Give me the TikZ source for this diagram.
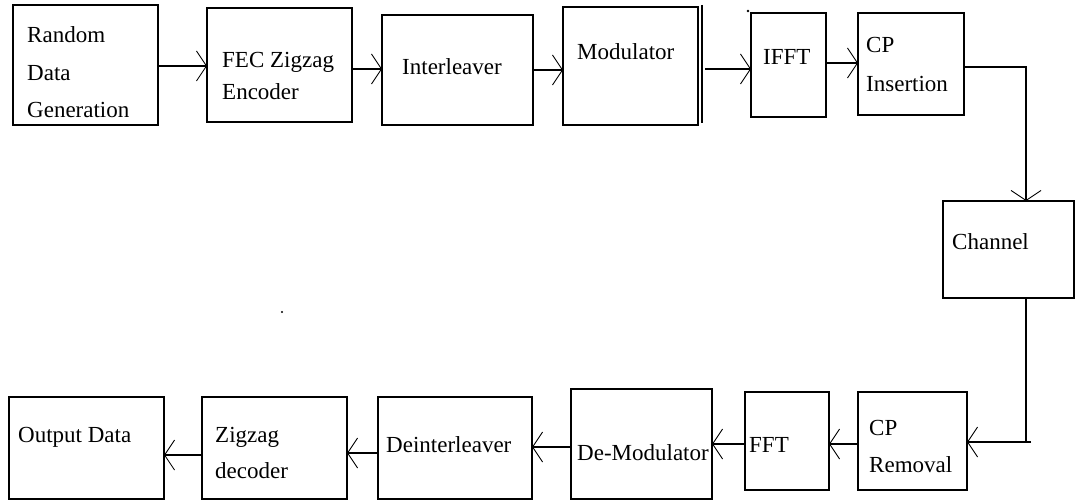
\documentclass[tikz,border=0pt]{standalone}
\usepackage{fontspec}
\setmainfont{Liberation Serif}
\usetikzlibrary{arrows.meta}
\begin{document}
\begin{tikzpicture}[x=1pt,y=-1pt,
  blk/.style={draw, line width=1.5pt, inner sep=0pt, outer sep=0pt, anchor=north west},
  lbl/.style={anchor=base west, inner sep=0pt, align=left, font=\fontsize{23}{37.5}\selectfont},
  conn/.style={line width=1.5pt, -{Straight Barb[length=10pt,width=30pt,line width=0.9pt]}},
  wire/.style={line width=1.5pt}]
\useasboundingbox[fill=white] (0,0) rectangle (1076,502);
% boxes, top row
\node[blk, minimum width=145pt, minimum height=120pt] (rand)  at (13,5) {};
\node[blk, minimum width=145pt, minimum height=114pt] (fec)   at (207,8) {};
\node[blk, minimum width=151pt, minimum height=110pt] (intl)  at (382,15) {};
\node[blk, minimum width=135pt, minimum height=118pt] (mod)   at (563,7) {};
\node[blk, minimum width=75pt,  minimum height=104pt] (ifft)  at (751,13) {};
\node[blk, minimum width=106pt, minimum height=102pt] (cpi)   at (858,13) {};
\node[blk, minimum width=131pt, minimum height=97pt]  (chan)  at (943,201) {};
% boxes, bottom row
\node[blk, minimum width=109pt, minimum height=98pt]  (cpr)   at (858,392) {};
\node[blk, minimum width=84pt,  minimum height=98pt]  (fft)   at (745,392) {};
\node[blk, minimum width=141pt, minimum height=110pt] (demod) at (571,389) {};
\node[blk, minimum width=154pt, minimum height=102pt] (deint) at (378,397) {};
\node[blk, minimum width=145pt, minimum height=102pt] (zz)    at (202,397) {};
\node[blk, minimum width=155pt, minimum height=102pt] (out)   at (9,397) {};
% labels (anchored at the baseline of the last line)
\node[lbl] (randt)  at (27,118) {Random\\Data\\Generation};
\node[lbl] (fect)   at (222,100) {FEC Zigzag\\[-5.5pt]Encoder};
\node[lbl] (intlt)  at (402,75) {Interleaver};
\node[lbl] (modt)   at (577,60) {Modulator};
\node[lbl] (ifftt)  at (763,65) {IFFT};
\node[lbl] (cpit)   at (866,92) {CP\\[1.5pt]Insertion};
\node[lbl] (chant)  at (952,250) {Channel};
\node[lbl] (cprt)   at (869,472) {CP\\[-0.5pt]Removal};
\node[lbl] (fftt)   at (749,452) {FFT};
\node[lbl] (demodt) at (577,460) {De-Modulator};
\node[lbl] (deintt) at (386,452) {Deinterleaver};
\node[lbl] (zzt)    at (215,478) {Zigzag\\[-1.5pt]decoder};
\node[lbl] (outt)   at (18,442) {Output Data};
% stray marks
\coordinate (mstray) at (702,5);
\draw[wire] (mstray) -- (702,123);
\fill (748,11) circle (1.3pt);
\fill (282,312) circle (1.2pt);
% connectors
\draw[conn] (rand.east |- 0,66) -- (fec.west |- 0,66);
\draw[conn] (fec.east |- 0,69) -- (intl.west |- 0,69);
\draw[conn] (intl.east |- 0,70) -- (mod.west |- 0,70);
\draw[conn] (705,69) -- (ifft.west |- 0,69);
\draw[conn] (ifft.east |- 0,63) -- (cpi.west |- 0,63);
\draw[conn] (cpi.east |- 0,67) -| (chan.north -| 1026,0);
\coordinate (stub) at (1031,442);
\draw[wire] (chan.south -| 1026,0) |- (stub);
\draw[conn] (stub) -- (cpr.east |- 0,442);
\draw[conn] (cpr.west |- 0,444) -- (fft.east |- 0,444);
\draw[conn] (fft.west |- 0,444) -- (demod.east |- 0,444);
\draw[conn] (demod.west |- 0,447) -- (deint.east |- 0,447);
\draw[conn] (deint.west |- 0,453) -- (zz.east |- 0,453);
\draw[conn] (zz.west |- 0,455) -- (out.east |- 0,455);
\end{tikzpicture}
\end{document}
